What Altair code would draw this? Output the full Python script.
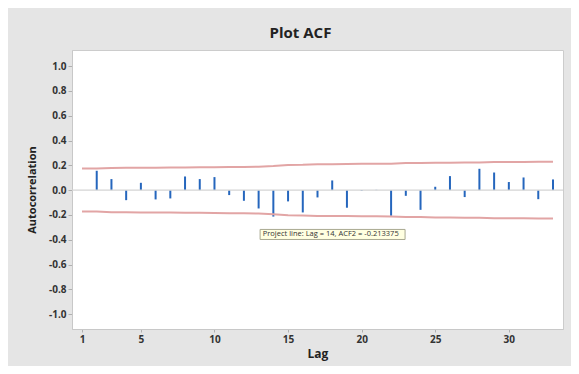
import altair as alt
import pandas as pd

# ---- data ----
stem_lags = list(range(2, 34))
acf_values = [0.156, 0.089, -0.081, 0.059, -0.075, -0.067, 0.110, 0.089, 0.105,
              -0.040, -0.086, -0.148, -0.213375, -0.091, -0.180, -0.059, 0.078,
              -0.142, -0.005, 0.002, -0.207, -0.046, -0.159, 0.027, 0.113, -0.056,
              0.172, 0.142, 0.065, 0.102, -0.073, 0.086]

limit_lags = list(range(1, 34))
upper_limit = [0.175, 0.175, 0.179, 0.180, 0.180, 0.181, 0.182, 0.182, 0.184, 0.185,
               0.187, 0.187, 0.189, 0.194, 0.203, 0.204, 0.209, 0.209, 0.210, 0.212,
               0.212, 0.212, 0.218, 0.218, 0.221, 0.221, 0.223, 0.223, 0.226, 0.227,
               0.227, 0.228, 0.229]
lower_limit = [-0.173, -0.173, -0.178, -0.179, -0.180, -0.181, -0.181, -0.182, -0.183,
               -0.184, -0.186, -0.187, -0.189, -0.194, -0.203, -0.204, -0.208, -0.208,
               -0.209, -0.211, -0.211, -0.212, -0.216, -0.217, -0.220, -0.221, -0.223,
               -0.223, -0.226, -0.227, -0.227, -0.228, -0.228]

x_ticks = [1, 5, 10, 15, 20, 25, 30]
y_ticks = [-1.0, -0.8, -0.6, -0.4, -0.2, 0.0, 0.2, 0.4, 0.6, 0.8, 1.0]

tip_text = ["Project line: Lag = 14, ACF2 = -0.213375"]
tip_box_x = [13.1]
tip_box_x2 = [22.95]
tip_box_y = [-0.317]
tip_box_y2 = [-0.398]
tip_text_x = [13.28]
tip_text_y = [-0.357]

# ---- tables ----
stems = pd.DataFrame({"lag": stem_lags, "acf": acf_values})
limits = pd.DataFrame({"lag": limit_lags, "upper": upper_limit, "lower": lower_limit})
tip = pd.DataFrame({"label": tip_text, "x": tip_box_x, "x2": tip_box_x2,
                    "y": tip_box_y, "y2": tip_box_y2, "tx": tip_text_x, "ty": tip_text_y})
zero = pd.DataFrame({"z": [0.0]})

FONT = "Open Sans"
xs = alt.Scale(domain=[0.32, 33.68], nice=False, zero=False)
ys = alt.Scale(domain=[-1.12, 1.13], nice=False, zero=False)

label_expr = "replace(format(datum.value, '.1f'), '\u2212', '-')"

x_axis = alt.Axis(values=x_ticks, title="Lag", grid=False, labelFontWeight="bold",
                  labelFontSize=10, labelColor="#333333", titleFontSize=12,
                  titleFontWeight="bold", titleColor="#222222", tickSize=3,
                  tickColor="#b0b0b0", domainColor="#c8c8c8", labelPadding=2,
                  titlePadding=4, labelFont=FONT, titleFont=FONT)
y_axis = alt.Axis(values=y_ticks, title="Autocorrelation", grid=False,
                  labelExpr=label_expr, labelFontWeight="bold", labelFontSize=10,
                  labelColor="#333333", titleFontSize=11, titleFontWeight="bold",
                  titleColor="#222222", tickSize=4, tickColor="#b0b0b0",
                  domainColor="#c8c8c8", labelPadding=2, titlePadding=11,
                  labelFont=FONT, titleFont=FONT)


def X(field):
    return alt.X(field, scale=xs, axis=x_axis, title="Lag")


def Y(field):
    return alt.Y(field, scale=ys, axis=y_axis, title="Autocorrelation")


stem_rules = alt.Chart(stems).mark_rule(color="#2566bd", strokeWidth=2).encode(
    x=X("lag:Q"),
    y=Y("acf:Q"),
    y2=alt.datum(0),
)

zero_rule = alt.Chart(zero).mark_rule(color="#d4d4d4", strokeWidth=1.2).encode(
    y=Y("z:Q")
)

upper_line = alt.Chart(limits).mark_line(color="#e2a5a5", strokeWidth=2).encode(
    x=X("lag:Q"),
    y=Y("upper:Q"),
)
lower_line = alt.Chart(limits).mark_line(color="#e2a5a5", strokeWidth=2).encode(
    x=X("lag:Q"),
    y=Y("lower:Q"),
)

tip_box = alt.Chart(tip).mark_rect(fill="#ffffe1", stroke="#a8a890", strokeWidth=1).encode(
    x=X("x:Q"), x2="x2:Q",
    y=Y("y:Q"), y2="y2:Q",
)
tip_label = alt.Chart(tip).mark_text(align="left", baseline="middle", fontSize=7.5,
                                     font=FONT, color="#333333").encode(
    x=X("tx:Q"),
    y=Y("ty:Q"),
    text="label:N",
)

chart = alt.layer(
    stem_rules, zero_rule, upper_line, lower_line, tip_box, tip_label
).properties(
    width=491,
    height=279,
    autosize=alt.AutoSizeParams(type="none"),
    padding={"left": 64, "top": 42, "right": 8, "bottom": 37},
    background="#e5e5e5",
    title=alt.TitleParams("Plot ACF", fontSize=15, fontWeight="bold", font=FONT,
                          color="#222222", anchor="middle", frame="group", dx=-17,
                          dy=8, baseline="middle", offset=10),
).configure_view(
    fill="white", stroke="#cccccc", strokeWidth=1
)

chart.save("out.html", embed_options={"renderer": "svg", "actions": False})
